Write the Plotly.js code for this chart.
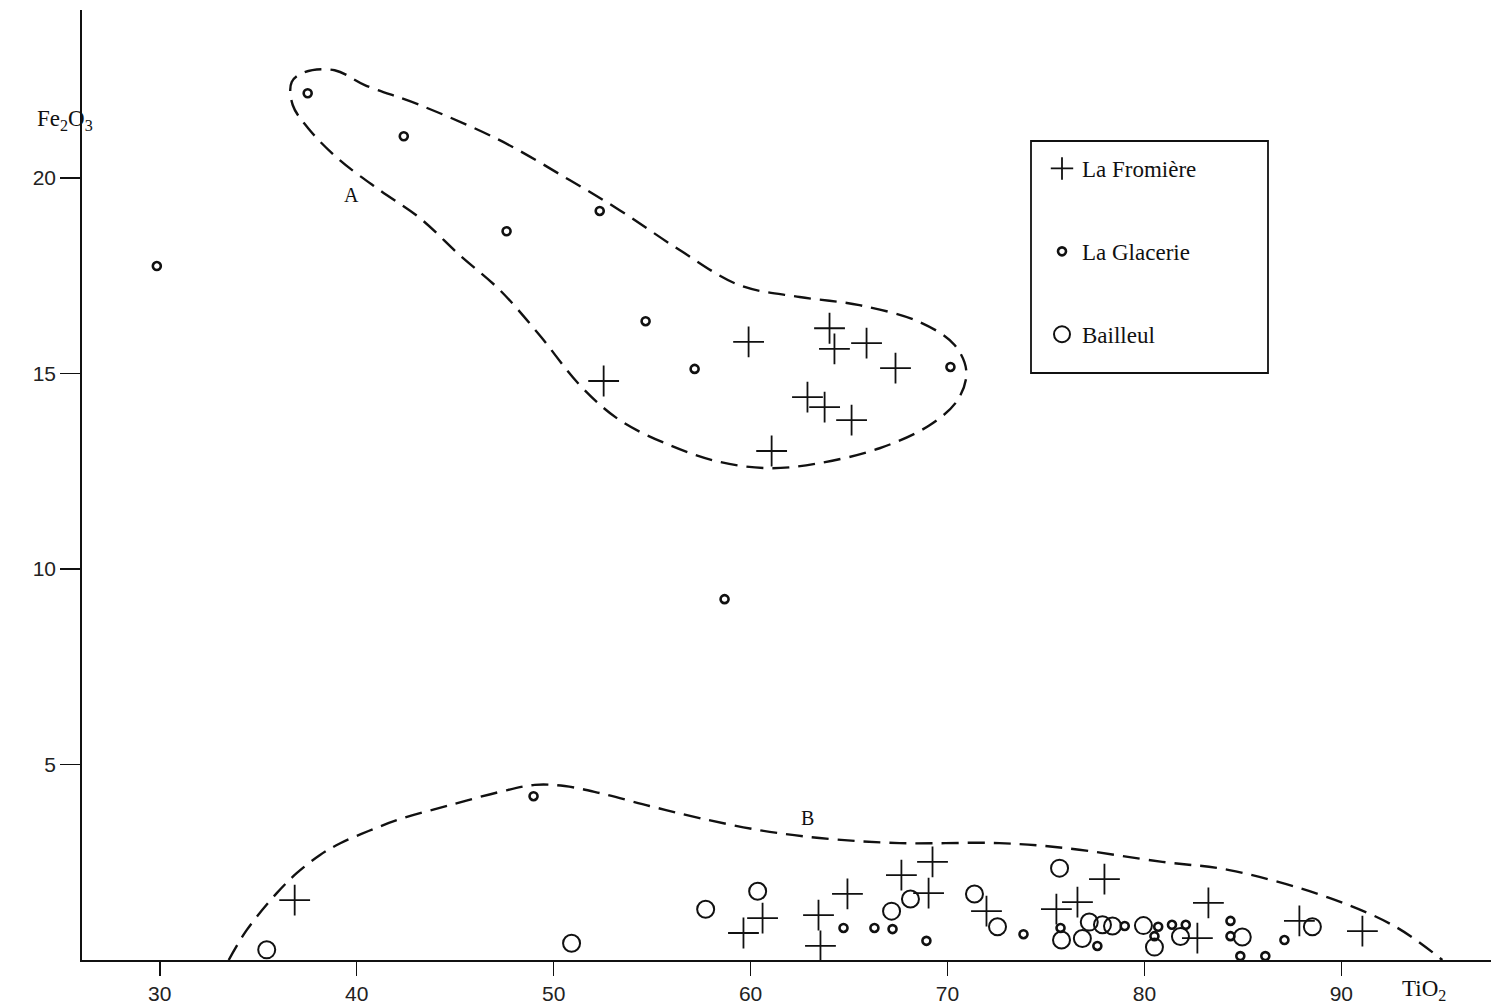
<!DOCTYPE html>
<html>
<head>
<meta charset="utf-8">
<script src="https://cdn.plot.ly/plotly-3.0.1.min.js"></script>
<style>html,body{margin:0;padding:0;background:#fff;}#chart{width:1491px;height:1008px;}</style>
</head>
<body>
<div id="chart"></div>
<script>
// ---- Data (TiO2 on x, Fe2O3 on y) ----
const fromiereX = [52.54,59.90,64.01,64.26,65.89,67.36,62.89,63.76,65.13,61.07,
  36.85,59.64,60.61,63.45,63.55,64.92,67.66,69.24,69.04,71.98,75.53,76.60,77.97,82.69,83.25,87.87,91.07];
const fromiereY = [14.81,15.81,16.16,15.63,15.78,15.14,14.40,14.14,13.81,13.02,
  1.53,0.69,1.07,1.15,0.36,1.69,2.17,2.51,1.71,1.25,1.30,1.48,2.07,0.56,1.46,1.00,0.74];

const glacerieX = [29.85,37.51,42.39,47.61,52.34,54.67,57.16,70.15,58.68,48.98,
  64.72,66.29,67.21,68.93,73.86,75.74,77.61,79.00,80.51,80.70,81.40,82.10,84.37,84.37,84.87,86.14,87.11];
const glacerieY = [17.75,22.17,21.07,18.64,19.16,16.34,15.12,15.17,9.23,4.19,
  0.82,0.82,0.79,0.49,0.66,0.82,0.36,0.87,0.61,0.85,0.90,0.90,1.00,0.61,0.10,0.10,0.51];

const bailleulX = [35.43,50.91,57.72,60.36,67.16,68.12,71.37,72.54,75.69,75.79,76.85,77.20,77.87,78.38,79.95,80.51,81.83,84.97,88.53];
const bailleulY = [0.26,0.43,1.30,1.76,1.25,1.56,1.69,0.85,2.35,0.51,0.55,0.97,0.90,0.87,0.88,0.33,0.60,0.59,0.85];

// Dashed grouping contours A and B
const contourAX = [36.70,37.36,38.88,40.41,43.20,47.26,50.81,53.35,56.40,59.44,62.49,65.53,68.58,70.36,70.96,70.51,69.09,66.55,63.50,60.96,58.43,55.89,53.35,51.32,49.29,47.26,45.23,43.20,41.17,39.14,37.61,36.75,36.70];
const contourAY = [22.46,22.71,22.76,22.38,21.87,20.97,19.95,19.18,18.16,17.26,16.96,16.75,16.32,15.73,15.04,14.32,13.68,13.09,12.71,12.58,12.74,13.17,13.81,14.71,15.98,17.14,18.03,18.98,19.69,20.46,21.23,21.87,22.46];

const contourBX = [33.50,34.42,35.94,36.95,38.12,39.14,40.60,42.18,44.72,47.26,49.04,50.56,52.34,54.87,57.41,60.46,63.50,67.56,72.64,76.04,80.91,84.31,89.39,92.79,95.13];
const contourBY = [0.00,0.77,1.71,2.22,2.68,2.98,3.30,3.60,3.96,4.30,4.48,4.45,4.27,3.94,3.63,3.32,3.12,2.99,2.99,2.86,2.51,2.30,1.59,0.84,0.00];

const xTicks = [30,40,50,60,70,80,90];
const yTicks = [5,10,15,20];
const seriesNames = ["La Fromière","La Glacerie","Bailleul"];

const legendFont = {family:"Liberation Serif", size:23, color:"#111"};
const dashStyle = "17px,9px";

const traces = [
  {x:contourAX, y:contourAY, mode:"lines", line:{color:"#111", width:2.4, dash:dashStyle, shape:"spline", smoothing:1}, showlegend:false, hoverinfo:"skip"},
  {x:contourBX, y:contourBY, mode:"lines", line:{color:"#111", width:2.4, dash:dashStyle, shape:"spline", smoothing:1}, showlegend:false, hoverinfo:"skip", cliponaxis:false},
  {x:fromiereX, y:fromiereY, name:seriesNames[0], mode:"markers", legendgroup:"a", cliponaxis:false,
   marker:{symbol:"cross-thin-open", size:22, color:"#111", line:{color:"#111", width:1.8}}},
  {x:glacerieX, y:glacerieY, name:seriesNames[1], mode:"markers", legendgroup:"b", cliponaxis:false,
   marker:{symbol:"circle-open", size:8, color:"#111", line:{color:"#111", width:2.6}}},
  {x:bailleulX, y:bailleulY, name:seriesNames[2], mode:"markers", legendgroup:"c", cliponaxis:false,
   marker:{symbol:"circle-open", size:17, color:"#111", line:{color:"#111", width:2}}}
];

const L = 82, R = 0, T = 10, B = 48, W = 1491, H = 1008;
const pw = W - L - R, ph = H - T - B;
const px = v => (v - L) / pw;
const py = v => (H - B - v) / ph;

const layout = {
  width:W, height:H,
  margin:{l:L, r:R, t:T, b:B, pad:0},
  paper_bgcolor:"#fff", plot_bgcolor:"#fff",
  font:{family:"Liberation Sans", color:"#111"},
  xaxis:{range:[26.05,97.6], tickmode:"array", tickvals:xTicks, ticktext:xTicks.map(String),
    ticks:"outside", ticklen:14, tickwidth:1.5, tickcolor:"#111",
    showline:true, linecolor:"#111", linewidth:1.8, showgrid:false, zeroline:false,
    tickfont:{size:21, family:"Liberation Sans", color:"#222"}},
  yaxis:{range:[0,24.3], tickmode:"array", tickvals:yTicks, ticktext:yTicks.map(String),
    ticks:"outside", ticklen:20, tickwidth:1.5, tickcolor:"#111",
    showline:true, linecolor:"#111", linewidth:1.8, showgrid:false, zeroline:false,
    tickfont:{size:21, family:"Liberation Sans", color:"#222"}},
  showlegend:true,
  legend:{x:px(1042), y:py(147), xanchor:"left", yanchor:"top", bgcolor:"rgba(0,0,0,0)",
    borderwidth:0, font:legendFont, tracegroupgap:50, itemsizing:"trace"},
  shapes:[
    {type:"rect", xref:"paper", yref:"paper", x0:px(1031), x1:px(1268), y0:py(373), y1:py(141),
     line:{color:"#111", width:1.8}, fillcolor:"rgba(0,0,0,0)"}
  ],
  annotations:[
    {x:39.75, y:19.57, xref:"x", yref:"y", text:"A", showarrow:false, font:{family:"Liberation Serif", size:20, color:"#111"}},
    {x:62.9, y:3.63, xref:"x", yref:"y", text:"B", showarrow:false, font:{family:"Liberation Serif", size:20, color:"#111"}},
    {x:px(35), y:py(104), xref:"paper", yref:"paper", text:"Fe<sub>2</sub>O<sub>3</sub>", showarrow:false,
     font:{family:"Liberation Serif", size:23, color:"#111"}},
    {x:px(1448), y:py(1006), xref:"paper", yref:"paper", yanchor:"bottom", text:"TiO<sub>2</sub>", showarrow:false,
     font:{family:"Liberation Serif", size:23, color:"#111"}}
  ]
};

Plotly.newPlot("chart", traces, layout, {staticPlot:true, displayModeBar:false});
</script>
</body>
</html>
